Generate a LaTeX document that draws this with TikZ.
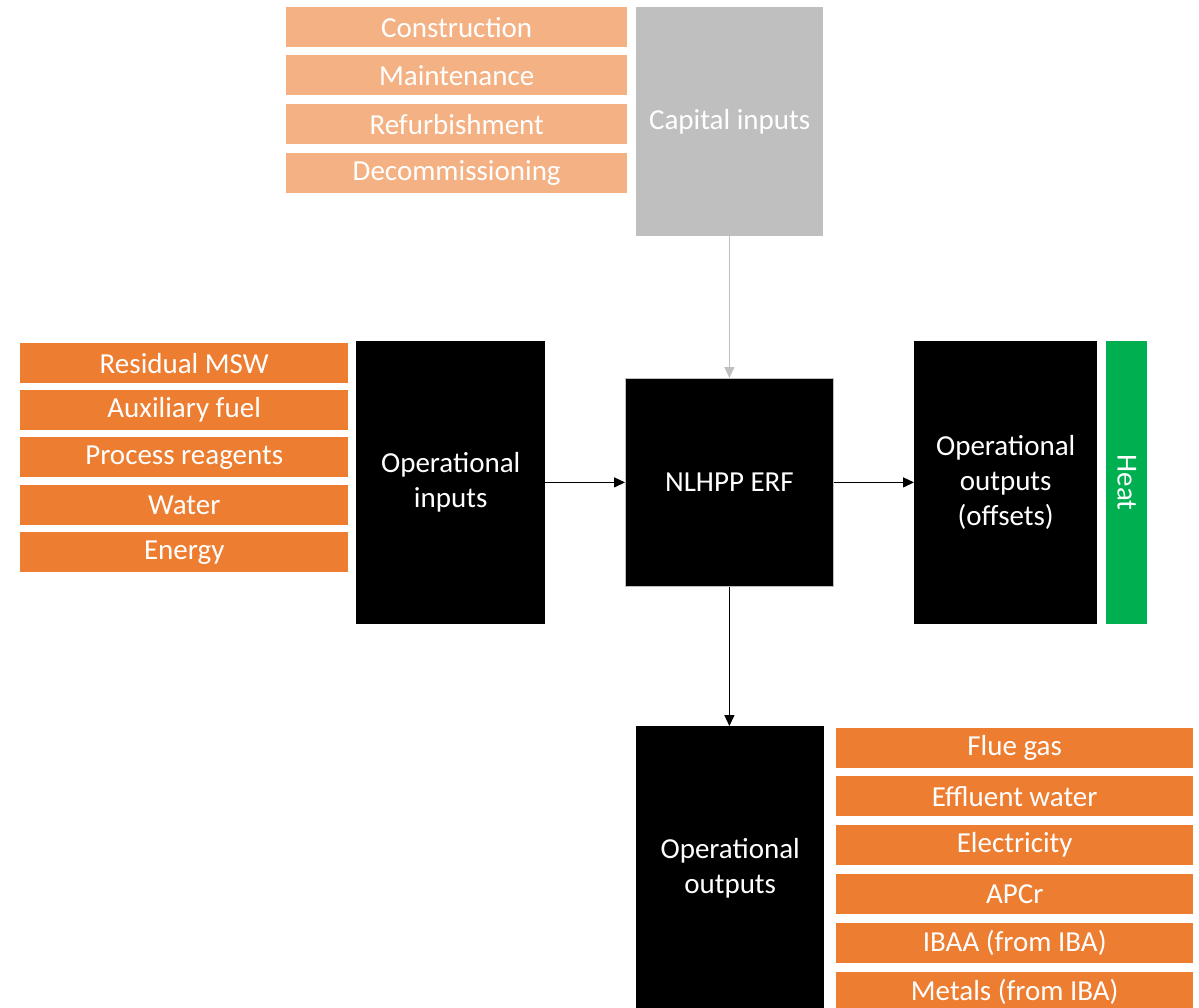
\documentclass[tikz,border=0pt]{standalone}
\usepackage{fontspec}
\setmainfont{Carlito}
\usetikzlibrary{arrows.meta, positioning}
\definecolor{laranjaclaro}{HTML}{F4B183}
\definecolor{laranja}{HTML}{ED7D31}
\definecolor{cinza}{HTML}{BFBFBF}
\definecolor{verde}{HTML}{00B050}

\begin{document}
\begin{tikzpicture}[
    x=1pt,
    y=-1pt,
    every node/.style={font=\fontsize{29}{35}\selectfont, text=white, inner sep=0pt},
    capitem/.style={
        fill=laranjaclaro,
        anchor=north west,
        minimum width=341pt,
        minimum height=40pt
    },
    opitem/.style={
        fill=laranja,
        anchor=north west,
        minimum height=40pt
    },
    bloco/.style={
        fill=black,
        anchor=north west,
        align=center
    },
    seta/.style={
        -{Triangle[length=11pt,width=10pt]},
        line width=1.4pt
    }
]

\useasboundingbox (0,0) rectangle (1199,1008);
\clip (0,0) rectangle (1199,1008);

% ============================================================
% CAPITAL INPUTS
% ============================================================

\node[capitem] (construction) at (286,7) {Construction};
\node[capitem] (maintenance) at (286,55) {Maintenance};
\node[capitem] (refurbishment) at (286,104) {Refurbishment};
\node[capitem] (decommissioning) at (286,153) {Decommissioning};

\node[
    bloco,
    fill=cinza,
    minimum width=187pt,
    minimum height=229pt
] (capital) at (636,7) {Capital inputs};

% ============================================================
% OPERATIONAL INPUTS
% ============================================================

\node[opitem, minimum width=328pt] (msw) at (20,343) {Residual MSW};
\node[opitem, minimum width=328pt] (fuel) at (20,390) {Auxiliary fuel};
\node[opitem, minimum width=328pt] (reagents) at (20,437) {Process reagents};
\node[opitem, minimum width=328pt] (water) at (20,485) {Water};
\node[opitem, minimum width=328pt] (energy) at (20,532) {Energy};

\node[
    bloco,
    minimum width=189pt,
    minimum height=283pt
] (opinputs) at (356,341) {Operational\\inputs};

% ============================================================
% ERF
% ============================================================

\node[
    bloco,
    draw=cinza,
    line width=0.8pt,
    minimum width=208pt,
    minimum height=208pt
] (erf) at (625,378) {NLHPP ERF};

% ============================================================
% OFFSETS
% ============================================================

\node[
    bloco,
    minimum width=183pt,
    minimum height=283pt
] (offsets) at (914,341) {Operational\\outputs\\(offsets)};

\node[
    bloco,
    fill=verde,
    minimum width=41pt,
    minimum height=283pt
] (heatbox) at (1106,341) {};
\node[rotate=-90] (heat) at (heatbox.center) {Heat};

% ============================================================
% OPERATIONAL OUTPUTS
% ============================================================

\node[
    bloco,
    minimum width=188pt,
    minimum height=284pt
] (opoutputs) at (636,726) {Operational\\outputs};

\node[opitem, minimum width=357pt] (fluegas) at (836,728) {Flue gas};
\node[opitem, minimum width=357pt] (effluent) at (836,776) {Effluent water};
\node[opitem, minimum width=357pt] (electricity) at (836,825) {Electricity};
\node[opitem, minimum width=357pt] (apcr) at (836,874) {APCr};
\node[opitem, minimum width=357pt] (ibaa) at (836,923) {IBAA (from IBA)};
\node[opitem, minimum width=357pt] (metals) at (836,972) {Metals (from IBA)};

% Setas
\draw[seta, cinza] (capital.south -| erf.north) -- (erf.north);
\draw[seta] (opinputs.east |- erf.west) -- (erf.west);
\draw[seta] (erf.east) -- (erf.east -| offsets.west);
\draw[seta] (erf.south) -- (erf.south |- opoutputs.north);

\end{tikzpicture}
\end{document}
